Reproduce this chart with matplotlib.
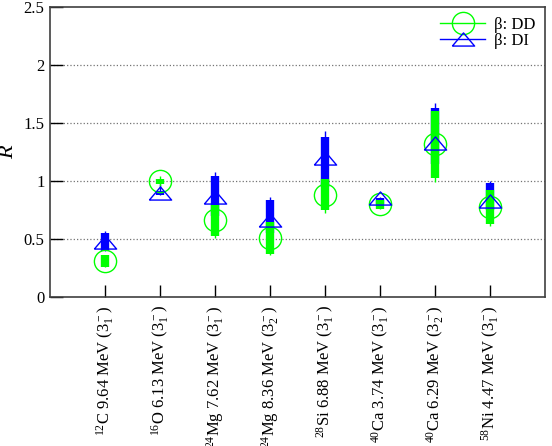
import numpy as np
import matplotlib
matplotlib.use("Agg")
import matplotlib.pyplot as plt
from matplotlib.lines import Line2D

plt.rcParams['font.family'] = ['Liberation Serif', 'DejaVu Serif']
plt.rcParams['mathtext.fontset'] = 'custom'
plt.rcParams['mathtext.rm'] = 'Liberation Serif'
plt.rcParams['mathtext.it'] = 'Liberation Serif:italic'

# Data
labels = [r"$^{12}$C 9.64 MeV (3$_1^-$)",
          r"$^{16}$O 6.13 MeV (3$_1^-$)",
          r"$^{24}$Mg 7.62 MeV (3$_1^-$)",
          r"$^{24}$Mg 8.36 MeV (3$_2^-$)",
          r"$^{28}$Si 6.88 MeV (3$_1^-$)",
          r"$^{40}$Ca 3.74 MeV (3$_1^-$)",
          r"$^{40}$Ca 6.29 MeV (3$_2^-$)",
          r"$^{58}$Ni 4.47 MeV (3$_1^-$)"]
pos = np.arange(1, 9)

# beta: DD (green)
dd_val = [0.31, 1.00, 0.66, 0.51, 0.88, 0.80, 1.32, 0.78]
dd_lo = [0.26, 0.97, 0.53, 0.37, 0.75, 0.76, 1.03, 0.63]
dd_hi = [0.36, 1.02, 0.79, 0.65, 1.02, 0.84, 1.60, 0.92]
dd_wlo = [0.26, 0.96, 0.51, 0.36, 0.72, 0.755, 0.99, 0.61]
dd_whi = [0.36, 1.04, 0.79, 0.65, 1.02, 0.84, 1.60, 0.92]

# beta: DI (blue)
di_val = [0.47, 0.90, 0.86, 0.66, 1.20, 0.85, 1.33, 0.83]
di_lo = [0.40, 0.88, 0.70, 0.55, 0.95, 0.80, 1.15, 0.75]
di_hi = [0.55, 0.915, 1.04, 0.84, 1.38, 0.85, 1.63, 0.98]
di_whi = [0.57, 0.97, 1.08, 0.86, 1.43, 0.86, 1.67, 1.00]

green = '#00ff00'
blue = '#0000ff'
tri = [(-1, -0.59), (1, -0.59), (0, 0.59), (-1, -0.59)]

fig = plt.figure(figsize=(5.52, 4.46), dpi=100)
ax = fig.add_axes([50/552, 1-297/446, 495/552, 290/446])

# Thin whiskers, then thick bars
ax.vlines(pos, di_lo, di_whi, color=blue, lw=1, zorder=2)
ax.vlines(pos, di_lo, di_hi, color=blue, lw=6, zorder=3)
ax.vlines(pos, dd_wlo, dd_whi, color=green, lw=1, zorder=4)
ax.vlines(pos, dd_lo, dd_hi, color=green, lw=6, zorder=5)

# Markers
ax.plot(pos, dd_val, ls='none', marker='o', ms=16, mfc='none', mec=green, mew=1, zorder=6)
ax.plot(pos, di_val, ls='none', marker=tri, ms=16, mfc='none', mec=blue, mew=1, zorder=7)

ax.set_xlim(0, 9)
ax.set_ylim(0, 2.5)
ax.set_yticks([0, 0.5, 1, 1.5, 2, 2.5])
ax.set_yticklabels(['0', '0.5', '1', '1.5', '2', '2.5'], fontsize=12)
ax.set_xticks(pos)
ax.set_xticklabels(labels, rotation=90, fontsize=12)
ax.tick_params(direction='in', length=9, width=1, top=False, right=False)
ax.tick_params(axis='x', pad=6)
ax.tick_params(axis='y', pad=4)
for y in [0.5, 1, 1.5, 2]:
    ax.axhline(y, color='0.45', ls=':', lw=0.9, zorder=1)
for s in ax.spines.values():
    s.set_linewidth(1.2)
    s.set_color('0.25')

ax.set_ylabel('R', fontsize=16, fontstyle='italic', labelpad=4)

# Legend
handles = [Line2D([], [], color=green, lw=1, marker='o', ms=16, mfc='none', mec=green),
           Line2D([], [], color=blue, lw=1, marker=tri, ms=16, mfc='none', mec=blue)]
ax.legend(handles, [r'β: DD', r'β: DI'], loc='upper right', frameon=False,
          fontsize=12, handlelength=2.7, handletextpad=0.5, labelspacing=0.0,
          borderaxespad=0.2, bbox_to_anchor=(1.0, 1.0))

fig.savefig('out.png', dpi=100)
